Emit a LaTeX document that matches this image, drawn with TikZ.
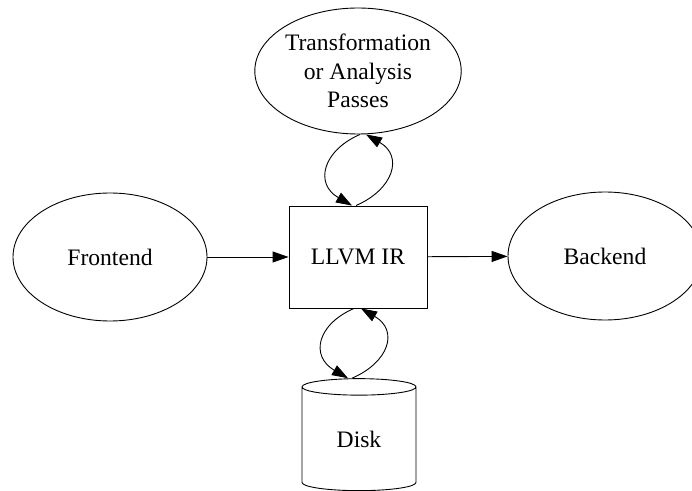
\documentclass[tikz,border=0pt]{standalone}
\usepackage{fontspec}
\setmainfont{Liberation Serif}
\usetikzlibrary{shapes.geometric,arrows.meta}

\tikzset{
  every node/.style={font=\fontsize{23.6}{28.5}\selectfont, inner sep=0pt},
  stage/.style={draw, ellipse, minimum width=194pt, minimum height=128pt, align=center},
  flow/.style={-{Triangle[length=16pt,width=11pt]}},
}

\begin{document}
\begin{tikzpicture}[x=1pt,y=1pt,line width=0.9pt]
\useasboundingbox (0,0) rectangle (692,490);

% nodes
\node[stage] (frontend) at (110,233) {Frontend};
\node[draw, minimum width=138pt, minimum height=102pt] (ir) at (358,233) {LLVM IR};
\node[stage] (backend) at (605,234) {Backend};
\node[stage, minimum width=193pt, minimum height=126pt] (passes) at (358,419)
     {Transformation\\or Analysis\\Passes};
\node[draw, cylinder, shape border rotate=90, aspect=0.37,
      minimum width=114pt, minimum height=112pt] (disk) at (359,51) {Disk};

% straight edges
\draw[flow] (frontend) -- (ir);
\draw[flow] (ir) -- (backend);

% loop to the passes
\draw[flow] ([xshift=2pt]passes.south) .. controls +(-37,-16) and +(-38,22) .. ([xshift=-6pt]ir.north);
\draw[flow] ([xshift=-2pt]ir.north) .. controls +(37,16) and +(38,-22) .. ([xshift=8pt]passes.south);

% loop to the disk
\draw[flow] ([xshift=-4pt]ir.south) .. controls +(-37,-16) and +(-38,22) .. ([xshift=-11pt]disk.north);
\draw[flow] ([xshift=-7pt]disk.north) .. controls +(37,16) and +(38,-22) .. ([xshift=3pt]ir.south);

\end{tikzpicture}
\end{document}
